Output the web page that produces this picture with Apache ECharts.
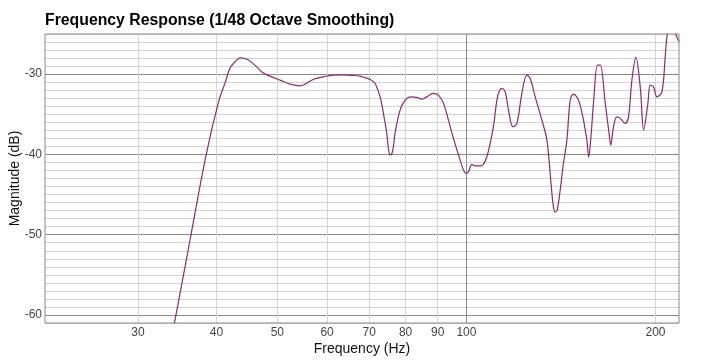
<!DOCTYPE html>
<html><head><meta charset="utf-8">
<script src="https://cdn.jsdelivr.net/npm/echarts@6/dist/echarts.min.js"></script>
<style>html,body{margin:0;padding:0;background:#fff}#c{width:711px;height:363px}</style>
</head><body><div id="c"></div>
<script>
const freqHz = [33.86,34.27,36.30,38.50,40.37,41.27,42.03,42.81,43.60,44.41,45.23,46.36,47.44,48.67,50.49,52.38,54.33,55.34,56.98,59.11,61.32,63.61,65.99,67.71,68.96,70.24,71.54,72.87,73.75,74.67,75.17,75.59,76.14,76.56,76.98,78.40,79.85,81.33,83.36,84.90,86.47,88.60,90.25,91.91,93.62,95.34,97.72,98.91,99.89,100.74,102.0,103.24,105.15,106.43,107.77,109.08,110.49,111.81,112.76,113.89,115.27,116.67,118.57,120.32,122.54,124.81,126.33,128.67,131.87,134.31,136.44,137.44,138.46,139.48,141.02,142.58,144.53,146.29,148.07,150.81,153.60,155.53,156.56,157.71,159.34,161.70,163.31,166.33,168.97,169.72,171.47,173.62,175.73,178.98,181.16,183.43,186.14,189.10,191.55,194.52,196.17,198.56,201.05,204.77,207.26,208.56,211.17,215.08,218.02];
const magDb = [-63.1,-61.08,-50.66,-40.08,-33.24,-31.12,-29.25,-28.47,-27.97,-28.05,-28.38,-29.09,-29.84,-30.25,-30.75,-31.24,-31.46,-31.24,-30.66,-30.34,-30.12,-30.09,-30.16,-30.25,-30.44,-30.66,-31.16,-32.83,-34.85,-37.34,-39.46,-40.08,-39.83,-38.84,-37.34,-34.48,-33.24,-32.83,-32.90,-33.11,-32.83,-32.40,-32.61,-33.61,-35.73,-38.00,-40.71,-41.95,-42.36,-42.16,-41.24,-41.42,-41.42,-41.24,-40.29,-38.63,-36.35,-33.24,-32.12,-31.78,-32.20,-34.48,-36.56,-36.14,-32.40,-30.12,-30.54,-32.83,-35.73,-38.22,-43.82,-46.31,-47.18,-46.93,-44.44,-41.33,-38.22,-33.24,-32.49,-33.24,-35.73,-38.22,-40.33,-38.22,-33.61,-28.88,-28.88,-33.61,-37.81,-38.84,-36.56,-35.32,-35.51,-36.14,-35.32,-30.75,-27.92,-31.58,-36.97,-33.61,-31.37,-31.58,-32.83,-32.20,-27.85,-25.36,-23.3,-24.93,-25.98];
const xTickHz = [30,40,50,60,70,80,90,100,200];
const yTickDb = [-60,-50,-40,-30];
const xRangeHz = [21.33, 218];
const yRangeDb = [-61, -25];

const lg = Math.log10;
const minorColor = '#d3d3d3', majorColor = '#8a8a8a';
const font = 'Liberation Sans, Arial, Helvetica, sans-serif';
const data = freqHz.map((f, i) => [lg(f), magDb[i]]);
const yMinorColors = [];
for (let v = yRangeDb[0]; v <= yRangeDb[1]; v++) yMinorColors.push(v % 10 === 0 ? majorColor : minorColor);

const chart = echarts.init(document.getElementById('c'), null, {renderer: 'canvas'});
chart.setOption({
  animation: false,
  title: {
    text: 'Frequency Response (1/48 Octave Smoothing)', left: 45, top: 13, padding: 0,
    textStyle: {fontFamily: font, fontWeight: 'bold', fontSize: 15.8, color: '#000'}
  },
  grid: {left: 45, right: 32, top: 34, bottom: 40, containLabel: false, outerBoundsMode: 'none',
    show: true, borderColor: majorColor, borderWidth: 1, z: 10},
  xAxis: {
    type: 'value', min: lg(xRangeHz[0]), max: lg(xRangeHz[1]),
    name: 'Frequency (Hz)', nameLocation: 'middle', nameGap: 19, nameMoveOverlap: false,
    nameTextStyle: {fontFamily: font, fontSize: 14, color: '#111'},
    axisLine: {show: false},
    axisTick: {show: false, customValues: xTickHz.map(lg)},
    axisLabel: {customValues: xTickHz.map(lg), formatter: v => String(Math.round(Math.pow(10, v))),
      fontFamily: font, fontSize: 12, color: '#444', margin: 4},
    splitLine: {show: true, lineStyle: {color: xTickHz.map(h => h === 100 ? majorColor : minorColor), width: 1}}
  },
  yAxis: {
    type: 'value', min: yRangeDb[0], max: yRangeDb[1], interval: 1,
    name: 'Magnitude (dB)', nameLocation: 'middle', nameGap: 23, nameMoveOverlap: false,
    nameTextStyle: {fontFamily: font, fontSize: 14, color: '#111'},
    axisLine: {show: false}, axisTick: {show: false},
    axisLabel: {customValues: yTickDb, fontFamily: font, fontSize: 12, color: '#444', margin: 3},
    splitLine: {show: true, lineStyle: {color: yMinorColors, width: 1}}
  },
  series: [{
    type: 'line', data: data, showSymbol: false, smooth: 0.35,
    lineStyle: {color: '#8c2a74', width: 1.2}, clip: true
  }]
});
</script>
</body></html>
